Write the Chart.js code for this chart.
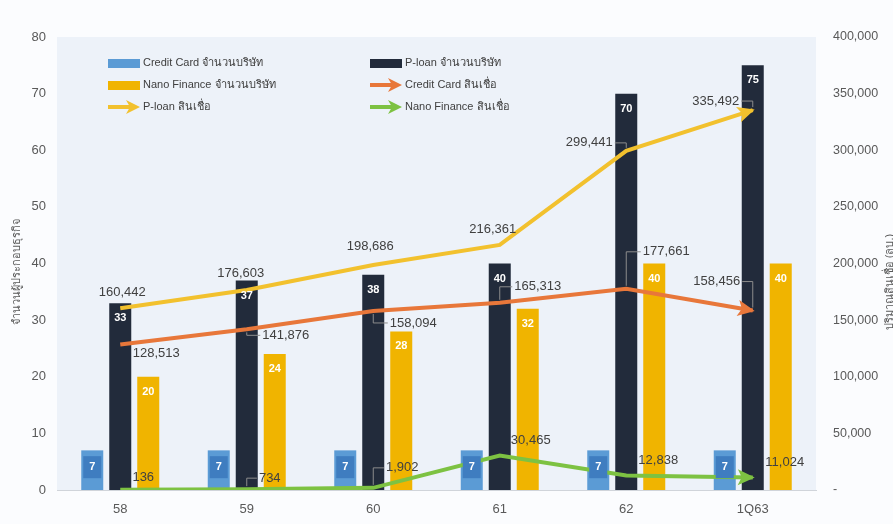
<!DOCTYPE html>
<html>
<head>
<meta charset="utf-8">
<title>Credit Card / P-loan / Nano Finance</title>
<script src="https://cdn.jsdelivr.net/npm/chart.js@4.4.1/dist/chart.umd.min.js"></script>
<style>
    body { margin: 0; background: #ffffff; }
    #wrap { width: 893px; height: 524px; }
</style>
</head>
<body>
<div id="wrap"><canvas id="chart" width="893" height="524"></canvas></div>
<script>
// Years on the category axis
const years = ['58', '59', '60', '61', '62', '1Q63'];

// Number of companies (left axis)
const ccCount = [7, 7, 7, 7, 7, 7];
const ploanCount = [33, 37, 38, 40, 70, 75];
const nanoCount = [20, 24, 28, 32, 40, 40];

// Credit outstanding, million baht (right axis)
const ccCredit = [128513, 141876, 158094, 165313, 177661, 158456];
const ploanCredit = [160442, 176603, 198686, 216361, 299441, 335492];
const nanoCredit = [136, 734, 1902, 30465, 12838, 11024];

// Tick values
const countTicks = [0, 10, 20, 30, 40, 50, 60, 70, 80];
const creditTicks = [0, 50000, 100000, 150000, 200000, 250000, 300000, 350000, 400000];

const FONT = '"Liberation Sans", "DejaVu Sans", sans-serif';
const TEXT = '#595959';

const colors = {
    cc: '#5b9bd5',
    ccBox: '#3f7dc0',
    ploan: '#222b3b',
    nano: '#f0b400',
    ccLine: '#e8773a',
    ploanLine: '#f2c12e',
    nanoLine: '#7dc242'
};

// label offsets from each line point: [dx, dy, draw leader]
const lineLabelPos = {
    3: [[36, 9, 0], [39, 6, 1], [40, 12, 1], [38, -16, 1], [40, -37, 1], [-36, -29, 1]],
    4: [[2, -16, 0], [-6, -17, 0], [-3, -19, 0], [-7, -16, 0], [-37, -8, 1], [-37, -9, 1]],
    5: [[23, -12, 0], [23, -11, 1], [29, -20, 1], [31, -15, 0], [32, -15, 0], [32, -15, 0]]
};

const fmt = v => v.toLocaleString('en-US');

function arrowHead(ctx, x, y, angle, color, len, half) {
    ctx.save();
    ctx.translate(x, y);
    ctx.rotate(angle);
    ctx.fillStyle = color;
    ctx.beginPath();
    ctx.moveTo(2, 0);
    ctx.lineTo(-len, -half);
    ctx.lineTo(-len + 4, 0);
    ctx.lineTo(-len, half);
    ctx.closePath();
    ctx.fill();
    ctx.restore();
}

const background = {
    id: 'background',
    beforeDraw(chart) {
        const { ctx, chartArea: a } = chart;
        ctx.save();
        ctx.fillStyle = '#fbfcfe';
        ctx.fillRect(0, 0, chart.width, chart.height);
        ctx.fillStyle = '#edf2f9';
        ctx.fillRect(a.left, a.top, a.right - a.left, a.bottom - a.top);
        ctx.restore();
    }
};

const decorations = {
    id: 'decorations',
    afterDatasetsDraw(chart) {
        const ctx = chart.ctx;
        ctx.save();

        // arrow heads at the end of each line
        [3, 4, 5].forEach(i => {
            const pts = chart.getDatasetMeta(i).data;
            const a = pts[pts.length - 2], b = pts[pts.length - 1];
            const ang = Math.atan2(b.y - a.y, b.x - a.x);
            arrowHead(ctx, b.x, b.y, ang, chart.data.datasets[i].borderColor, 15, 8);
        });

        // bar value labels
        ctx.textAlign = 'center';
        ctx.textBaseline = 'middle';
        ctx.font = 'bold 11px ' + FONT;
        chart.getDatasetMeta(0).data.forEach((bar, j) => {
            const w = bar.width - 4;
            const cy = bar.y + (bar.base - bar.y) / 2 - 3;
            ctx.fillStyle = colors.ccBox;
            ctx.fillRect(bar.x - w / 2, cy - 11, w, 22);
            ctx.fillStyle = '#ffffff';
            ctx.fillText(ccCount[j], bar.x, cy);
        });
        [[1, ploanCount], [2, nanoCount]].forEach(([i, vals]) => {
            chart.getDatasetMeta(i).data.forEach((bar, j) => {
                ctx.fillStyle = '#ffffff';
                ctx.fillText(vals[j], bar.x, bar.y + 15);
            });
        });

        // line value labels with leader lines
        ctx.font = '13px ' + FONT;
        Object.keys(lineLabelPos).forEach(k => {
            const i = +k;
            const vals = chart.data.datasets[i].data;
            chart.getDatasetMeta(i).data.forEach((pt, j) => {
                const [dx, dy, leader] = lineLabelPos[k][j];
                const txt = fmt(vals[j]);
                const lx = pt.x + dx, ly = pt.y + dy;
                if (leader) {
                    const hw = ctx.measureText(txt).width / 2;
                    const ex = dx < 0 ? lx + hw + 2 : lx - hw - 2;
                    ctx.strokeStyle = '#8c8c8c';
                    ctx.lineWidth = 1;
                    ctx.beginPath();
                    ctx.moveTo(ex, ly);
                    ctx.lineTo(pt.x, ly);
                    ctx.lineTo(pt.x, pt.y + (dy < 0 ? -3 : 3));
                    ctx.stroke();
                }
                ctx.fillStyle = '#404040';
                ctx.fillText(txt, lx, ly);
            });
        });

        ctx.restore();
    },
    afterDraw(chart) {
        const ctx = chart.ctx;
        ctx.save();

        // legend inside the plot area
        const items = [
            { x: 108, y: 63, kind: 'box', color: colors.cc, ds: 0 },
            { x: 370, y: 63, kind: 'box', color: colors.ploan, ds: 1 },
            { x: 108, y: 85, kind: 'box', color: colors.nano, ds: 2 },
            { x: 370, y: 85, kind: 'arrow', color: colors.ccLine, ds: 3 },
            { x: 108, y: 107, kind: 'arrow', color: colors.ploanLine, ds: 4 },
            { x: 370, y: 107, kind: 'arrow', color: colors.nanoLine, ds: 5 }
        ];
        ctx.font = '11px ' + FONT;
        ctx.textBaseline = 'middle';
        ctx.textAlign = 'left';
        items.forEach(it => {
            if (it.kind === 'box') {
                ctx.fillStyle = it.color;
                ctx.fillRect(it.x, it.y - 4, 32, 9);
            } else {
                ctx.strokeStyle = it.color;
                ctx.lineWidth = 4;
                ctx.beginPath();
                ctx.moveTo(it.x, it.y);
                ctx.lineTo(it.x + 22, it.y);
                ctx.stroke();
                arrowHead(ctx, it.x + 30, it.y, 0, it.color, 12, 7);
            }
            ctx.fillStyle = '#404040';
            ctx.fillText(chart.data.datasets[it.ds].label, it.x + 35, it.y);
        });

        // axis titles
        ctx.fillStyle = TEXT;
        ctx.font = '11px ' + FONT;
        ctx.textAlign = 'center';
        ctx.save();
        ctx.translate(17, 272);
        ctx.rotate(-Math.PI / 2);
        ctx.fillText('จำนวนผู้ประกอบธุรกิจ', 0, 0);
        ctx.restore();
        ctx.save();
        ctx.translate(890, 282);
        ctx.rotate(-Math.PI / 2);
        ctx.fillText('ปริมาณสินเชื่อ (ลบ.)', 0, 0);
        ctx.restore();

        ctx.restore();
    }
};

const ctx = document.getElementById('chart').getContext('2d');
new Chart(ctx, {
    data: {
        labels: years,
        datasets: [{
            type: 'bar',
            label: 'Credit Card จำนวนบริษัท',
            data: ccCount,
            backgroundColor: colors.cc,
            yAxisID: 'y',
            order: 2
        }, {
            type: 'bar',
            label: 'P-loan จำนวนบริษัท',
            data: ploanCount,
            backgroundColor: colors.ploan,
            yAxisID: 'y',
            order: 2
        }, {
            type: 'bar',
            label: 'Nano Finance จำนวนบริษัท',
            data: nanoCount,
            backgroundColor: colors.nano,
            yAxisID: 'y',
            order: 2
        }, {
            type: 'line',
            label: 'Credit Card สินเชื่อ',
            data: ccCredit,
            borderColor: colors.ccLine,
            borderWidth: 4,
            pointRadius: 0,
            yAxisID: 'y1',
            order: 1
        }, {
            type: 'line',
            label: 'P-loan สินเชื่อ',
            data: ploanCredit,
            borderColor: colors.ploanLine,
            borderWidth: 4,
            pointRadius: 0,
            yAxisID: 'y1',
            order: 1
        }, {
            type: 'line',
            label: 'Nano Finance สินเชื่อ',
            data: nanoCredit,
            borderColor: colors.nanoLine,
            borderWidth: 4,
            pointRadius: 0,
            yAxisID: 'y1',
            order: 1
        }]
    },
    options: {
        responsive: false,
        animation: false,
        devicePixelRatio: 1,
        layout: { padding: { top: 37, left: 0, right: 0, bottom: 0 } },
        datasets: {
            bar: { categoryPercentage: 0.664, barPercentage: 0.786 }
        },
        plugins: {
            legend: { display: false },
            tooltip: { enabled: false }
        },
        scales: {
            x: {
                grid: { display: false },
                border: { color: '#d0d4da' },
                ticks: { color: TEXT, font: { family: FONT, size: 13 }, padding: 4 },
                afterFit: s => { s.height = 34; }
            },
            y: {
                position: 'left',
                min: 0,
                max: 80,
                grid: { display: false, drawTicks: false },
                border: { display: false },
                afterBuildTicks: s => { s.ticks = countTicks.map(v => ({ value: v })); },
                ticks: { color: TEXT, font: { family: FONT, size: 13 }, padding: 11 },
                afterFit: s => { s.width = 57; }
            },
            y1: {
                position: 'right',
                min: 0,
                max: 400000,
                grid: { display: false, drawTicks: false },
                border: { display: false },
                afterBuildTicks: s => { s.ticks = creditTicks.map(v => ({ value: v })); },
                ticks: {
                    color: TEXT,
                    font: { family: FONT, size: 12.5 },
                    padding: 17,
                    callback: v => v === 0 ? '-' : fmt(v)
                },
                afterFit: s => { s.width = 77; }
            }
        }
    },
    plugins: [background, decorations]
});
</script>
</body>
</html>
